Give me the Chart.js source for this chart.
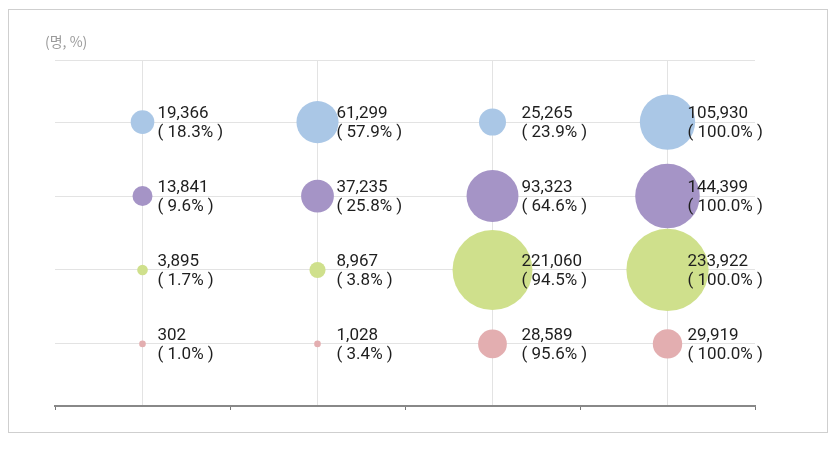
<!DOCTYPE html>
<html>
<head>
<meta charset="utf-8">
<script src="https://cdn.jsdelivr.net/npm/chart.js@4/dist/chart.umd.min.js"></script>
<style>
  html, body { margin: 0; padding: 0; background: #fff; }
  #wrap { width: 837px; height: 449px; }
</style>
</head>
<body>
<div id="wrap"><canvas id="chart" width="837" height="449"></canvas></div>
<script>
// column positions (no category labels in the original)
const columns = [0.5, 1.5, 2.5, 3.5];
// rows from top to bottom
const rowLevels = [4, 3, 2, 1];

const blueValues = [19366, 61299, 25265, 105930];
const bluePct = [18.3, 57.9, 23.9, 100.0];
const purpleValues = [13841, 37235, 93323, 144399];
const purplePct = [9.6, 25.8, 64.6, 100.0];
const greenValues = [3895, 8967, 221060, 233922];
const greenPct = [1.7, 3.8, 94.5, 100.0];
const pinkValues = [302, 1028, 28589, 29919];
const pinkPct = [1.0, 3.4, 95.6, 100.0];

const unitLabel = '(명, %)';

const colors = ['#aac7e6', '#a594c6', '#cfe08c', '#e3aeb0'];
const labelOffset = [15, 19, 29, 20];

function radius(v) {
    return Math.max(3.3, 0.085 * Math.sqrt(v));
}

function makeSet(values, pct, level, color) {
    return {
        data: values.map((v, i) => ({ x: columns[i], y: level, r: radius(v), v: v, p: pct[i] })),
        backgroundColor: color,
        borderWidth: 0,
        hoverBorderWidth: 0
    };
}

const datasets = [
    makeSet(blueValues, bluePct, rowLevels[0], colors[0]),
    makeSet(purpleValues, purplePct, rowLevels[1], colors[1]),
    makeSet(greenValues, greenPct, rowLevels[2], colors[2]),
    makeSet(pinkValues, pinkPct, rowLevels[3], colors[3])
];

const frame = {
    id: 'frame',
    beforeDraw(chart) {
        const c = chart.ctx;
        c.save();
        c.fillStyle = '#fff';
        c.fillRect(0, 0, chart.width, chart.height);
        c.strokeStyle = '#cfcfcf';
        c.lineWidth = 1;
        c.strokeRect(8.5, 9.5, 819, 423);
        c.fillStyle = '#9a9a9a';
        c.font = '14px "Noto Sans CJK KR", "Noto Sans", sans-serif';
        c.textBaseline = 'middle';
        c.fillText(unitLabel, 45, 42);
        c.restore();
    }
};

const valueLabels = {
    id: 'valueLabels',
    afterDatasetsDraw(chart) {
        const c = chart.ctx;
        c.save();
        c.fillStyle = '#1e1e1e';
        c.font = '17px Roboto, "DejaVu Sans", sans-serif';
        c.textBaseline = 'middle';
        chart.data.datasets.forEach((ds, di) => {
            const meta = chart.getDatasetMeta(di);
            meta.data.forEach((el, i) => {
                const d = ds.data[i];
                const x = el.x + labelOffset[i];
                c.fillText(d.v.toLocaleString('en-US'), x, el.y - 8.5);
                c.fillText('( ' + d.p.toFixed(1) + '% )', x, el.y + 10.5);
            });
        });
        c.restore();
    }
};

new Chart(document.getElementById('chart'), {
    type: 'bubble',
    data: { datasets: datasets },
    options: {
        responsive: false,
        animation: false,
        layout: { padding: { left: 55, right: 82, top: 60, bottom: 39 } },
        plugins: {
            legend: { display: false },
            tooltip: { enabled: false }
        },
        scales: {
            x: {
                type: 'linear',
                position: 'bottom',
                min: 0,
                max: 4,
                afterBuildTicks: (s) => { s.ticks = [0, 1, 2, 3, 4].map(v => ({ value: v })); },
                ticks: { display: false },
                grid: { drawOnChartArea: false, drawTicks: true, tickLength: 4, tickColor: '#777', tickWidth: 1 },
                border: { display: true, color: '#888', width: 2 }
            },
            xGrid: {
                type: 'linear',
                position: 'top',
                min: 0,
                max: 4,
                afterBuildTicks: (s) => { s.ticks = columns.map(v => ({ value: v })); },
                ticks: { display: false },
                grid: { drawTicks: false, color: '#e3e3e3', lineWidth: 1 },
                border: { display: false }
            },
            y: {
                type: 'linear',
                min: 0.16,
                max: 4.84,
                afterBuildTicks: (s) => { s.ticks = [1, 2, 3, 4, 4.84].map(v => ({ value: v })); },
                ticks: { display: false },
                grid: { drawTicks: false, color: '#e3e3e3', lineWidth: 1 },
                border: { display: false }
            }
        }
    },
    plugins: [frame, valueLabels]
});
</script>
</body>
</html>
